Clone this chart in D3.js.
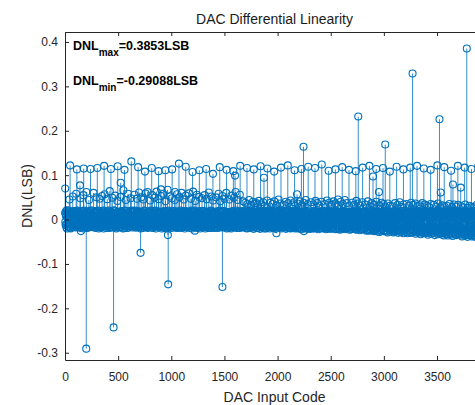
<!DOCTYPE html>
<html>
<head>
<meta charset="utf-8">
<script src="https://cdn.jsdelivr.net/npm/d3@7"></script>
<style>
body { margin: 0; background: #fff; }
text { font-family: Arial, "Liberation Sans", sans-serif; }
</style>
</head>
<body>
<div class="chart"></div>
<script>
// axis ticks
var xTicks = [0, 500, 1000, 1500, 2000, 2500, 3000, 3500];
var yTicks = [-0.3, -0.2, -0.1, 0, 0.1, 0.2, 0.3, 0.4];

// main transitions, one every 64 codes starting at code 48 (mLSB)
var peakDnl = [122, 113, 115, 114, 116, 121, 114, 120, 112, 131, 118, 108, 116, 109, 111, 113,
               126, 119, 107, 111, 114, 103, 118, 112, 109, 121, 116, 113, 120, 115, 108, 117,
               122, 111, 114, 119, 116, 124, 110, 113, 118, 112, 109, 117, 121, 114, 116, 108,
               119, 113, 117, 121, 115, 112, 122, 118, 110, 121, 117, 114, 120, 116, 112, 118];

// smaller secondary transitions
var subCodes = [2, 141, 524, 903, 1035, 1600, 1872, 2183, 2568, 2898, 2954, 3535, 3650, 3723];
var subDnl   = [0.070, 0.077, 0.083, 0.068, 0.062, 0.099, 0.094, 0.057, 0.045, 0.097, 0.062, 0.061, 0.079, 0.072];

// isolated spikes
var spikeCodes = [150, 200, 457, 711, 968, 971, 1221, 1481, 1989, 2244, 2248, 2759, 3013, 3270, 3523, 3780];
var spikeDnl   = [-0.026, -0.29088, -0.243, -0.075, -0.035, -0.146, -0.025, -0.152, -0.031, 0.164, -0.026,
                  0.232, 0.169, 0.329, 0.226, 0.3853];

// remaining codes 1, 5, 9, ... (mLSB), one row per 128 codes
var bulkDnl = [
  14,-12,8,-18,21,3,-9,16,-15,5,45,-6,12,-20,9,-3,18,-11,52,2,-16,11,-7,19,-13,6,58,-4,15,-17,7,-1,
  -8,17,-14,4,48,-19,10,-2,16,-12,7,55,-6,20,-15,1,13,-10,62,-4,18,-17,9,-1,44,-13,6,15,-9,21,-16,3,
  11,-15,5,60,-7,17,-18,2,14,-11,50,-3,19,-14,8,-20,12,47,-6,16,-12,4,-17,53,9,-5,20,-10,1,57,-14,13,
  -6,15,-16,46,7,-11,18,-2,-19,64,10,-8,16,-13,3,49,-17,12,-4,21,-15,6,54,-9,14,-18,0,42,-7,17,-12,8,
  13,-10,51,-5,18,-17,2,15,-13,66,-1,11,-19,9,-6,44,19,-14,5,-8,58,16,-11,1,-16,12,48,-3,20,-15,7,-9,
  -12,19,3,56,-15,9,-7,14,-18,47,6,-4,17,-11,61,-16,10,2,-13,50,15,-9,-19,8,45,-2,18,-14,4,59,-10,11,
  7,-17,62,12,-8,16,-14,1,43,-11,19,-5,-18,55,9,-13,14,-3,49,-16,20,5,-10,63,-7,13,-15,2,46,18,-12,-4,
  -14,10,53,-9,17,-16,4,58,-6,15,-19,11,41,-2,-13,18,-8,67,6,-17,12,-1,52,-11,16,-15,3,48,-5,19,-10,9,
  15,-7,44,-18,8,13,-12,57,-3,-16,18,6,-9,50,-14,11,1,-19,60,14,-6,17,-13,45,-2,9,-17,19,54,-8,5,-11,
  -10,16,-4,59,-15,7,12,-18,47,20,-11,2,-14,63,8,-6,17,-16,42,-1,13,-12,56,-19,10,3,-9,51,15,-13,-3,18,
  6,-16,48,11,-9,19,-14,0,55,-12,14,-5,-17,46,17,-8,4,-15,61,12,-11,-2,18,-19,52,7,-13,16,43,-6,9,-14,
  -13,18,2,50,-7,-16,13,8,-11,58,-4,16,-18,41,10,-9,15,-14,53,1,-17,19,-6,47,12,-12,4,60,-15,17,-3,11,
  12,-9,45,-14,16,-2,-18,54,9,-11,18,-16,3,49,-7,14,-13,62,-5,17,-19,8,44,-10,13,0,-15,56,11,-8,19,-17,
  -11,15,-6,41,-17,10,4,-14,38,17,-9,-19,12,35,-3,16,-12,44,7,-16,-1,19,33,-13,9,-7,40,14,-18,2,36,-10,
  9,-15,37,13,-8,-19,17,2,42,-12,11,-5,-17,34,18,-10,6,-14,39,15,-20,-3,31,12,-11,19,-16,43,4,-7,16,-18,
  -16,12,-2,38,-13,18,-9,5,35,-19,14,-6,41,10,-15,17,-11,32,3,-17,19,-8,45,-12,13,-4,36,-18,8,16,-14,1,
  14,-12,33,-17,6,19,-10,40,-4,-18,15,9,-14,37,17,-7,2,-19,43,11,-13,18,-3,34,-16,8,-9,39,14,-20,5,-11,
  -9,17,-14,36,3,-19,12,-6,41,15,-17,-1,18,32,-12,9,-15,38,16,-8,-20,4,44,-13,11,17,-5,35,-18,7,-10,13,
  10,-18,39,-4,16,-13,-20,8,34,14,-9,19,-16,42,-2,12,-11,37,18,-17,5,-7,31,13,-19,16,-14,40,2,-10,17,-15,
  -14,11,-8,35,18,-17,3,-12,43,9,-20,15,-5,38,-16,13,19,-10,33,-2,-18,14,6,41,-13,17,-9,36,10,-21,1,16,
  8,-16,32,15,-11,-21,12,-4,40,17,-14,6,-19,35,11,-8,18,-17,44,-1,13,-12,-20,37,16,-6,9,-15,30,-18,14,-10,
  -13,16,-7,38,-19,10,4,-16,33,18,-11,-22,14,42,-3,12,-18,36,7,-14,17,-9,31,-21,15,2,-12,39,-17,11,-5,16,
  12,-19,34,-8,17,-23,5,-14,41,14,-10,-25,9,30,-17,16,-4,37,-21,11,-13,18,-24,33,6,-15,13,-9,40,-20,15,-2,
  -18,14,-11,32,-24,9,16,-15,38,3,-22,12,-7,35,-26,17,-13,29,10,-19,-5,15,-25,36,8,-16,13,-21,31,-10,18,-23,
  11,-22,30,-14,16,-27,4,-9,37,13,-20,-3,17,-25,33,8,-17,14,-11,39,-24,6,-28,15,29,-13,10,-21,34,2,-18,16,
  -20,13,-8,35,-26,15,-16,5,31,-23,11,-12,17,-28,38,-6,14,-21,9,33,-25,16,-15,3,36,-19,12,-29,7,30,-14,15,
  14,-24,32,-17,10,-29,6,-13,37,15,-26,-8,12,-21,34,-3,17,-27,9,31,-16,14,-30,4,28,-19,11,-24,35,-11,16,-22,
  -25,12,-15,33,-30,8,16,-20,29,-9,14,-28,5,36,-18,13,-31,10,27,-23,15,-12,-29,32,7,-21,17,-26,30,-14,11,-32,
  9,-27,31,-19,14,-33,3,-16,35,12,-24,-10,16,-30,28,-6,13,-28,8,34,-21,15,-34,5,29,-17,10,-31,33,-13,14,-25,
  -28,11,-18,30,-33,7,15,-23,27,-12,13,-31,4,34,-20,16,-35,9,26,-26,14,-15,-32,31,6,-24,12,-29,28,-16,10,-36,
  8,-30,29,-21,13,-35,2,-18,33,11,-27,-13,15,-33,27,-8,12,-31,7,32,-24,14,-37,4,28,-20,9,-34,31,-15,13,-28,
  -31,10,-20,28,-36,6,14,-26,30,-14,12,-34,3,33,-22,15,-38,8,27,-29,13,-17,-35,30,5,-27,11,-32,29,-18,9,-37
];

// remaining codes 3, 7, 11, ... (mLSB), one row per 128 codes
var bulkDnl2 = [
  -5,18,-13,9,-20,14,2,-16,20,-8,11,-19,6,17,-11,-2,15,-17,10,-7,19,-14,4,-10,16,-18,12,-3,20,-12,8,-15,
  17,-9,3,-18,13,-4,19,-15,7,-11,16,-20,10,-1,-16,14,5,-12,18,-6,-19,9,15,-13,2,-17,11,19,-8,-14,6,12,
  -17,6,16,-10,-3,19,-14,11,-19,4,15,-7,-12,20,1,-16,9,-5,17,-18,13,-9,-2,18,-15,7,-20,14,3,-11,17,-6,
  10,-19,13,-1,-15,8,20,-12,5,-17,-6,18,-9,12,-18,16,-3,-13,7,19,-10,-16,14,1,-20,11,-7,17,-14,4,-18,15,
  -2,14,-17,19,-11,6,-8,17,-20,12,3,-14,20,-5,9,-16,-12,15,-1,-19,11,17,-7,-15,6,19,-13,2,-10,16,-18,8,
  16,-13,7,-6,20,-18,11,-3,13,-15,-9,19,2,-17,14,-10,18,-20,5,12,-14,-4,16,-11,-18,9,20,-8,13,-16,3,-12,
  -11,9,-19,15,2,-14,17,-7,-16,20,8,-12,-4,16,-19,10,-9,19,-15,3,14,-20,7,-6,17,-13,-2,18,-17,11,-9,14,
  13,-16,4,-20,17,-8,-13,10,19,-3,-18,12,-10,7,15,-19,3,-14,20,-11,-5,16,-17,9,12,-7,-19,15,-1,-13,18,-4,
  -8,19,-12,6,-17,15,1,-19,9,-6,17,-15,13,-18,-2,20,-10,11,-16,4,18,-9,-14,19,-4,-20,14,-11,8,16,-15,2,
  18,-4,-15,13,-9,-19,11,16,-12,3,-20,9,18,-7,-14,6,20,-17,-1,14,-11,7,-18,16,-3,12,-16,-9,19,-20,10,-6,
  -15,11,8,-18,19,-2,-12,14,-7,-20,16,1,-16,12,-10,18,-5,-19,9,15,-13,-3,20,-17,6,-8,13,-14,17,-1,-19,11,
  5,-17,15,-11,-4,18,-19,7,12,-14,-1,20,-13,-8,16,-17,10,3,-15,19,-6,-18,11,-10,17,-2,-16,14,-20,8,15,-9,
  -19,13,-5,17,-14,9,-20,16,-3,-12,19,-8,11,-17,5,14,-18,-6,20,-11,8,-15,17,-1,-13,12,-19,4,16,-10,-7,18,
  15,-10,-18,12,6,-16,19,-9,-14,17,-2,-20,13,8,-15,18,-12,1,-19,16,-7,11,-17,19,-5,-13,14,-21,9,17,-11,-3,
  -12,17,3,-19,15,-6,-15,20,-10,7,-21,14,-4,18,-17,10,-13,19,-8,-18,16,2,-14,12,-20,18,-7,-11,15,-16,6,19,
  8,-20,16,-13,-5,19,-17,11,-2,15,-19,-9,18,-14,12,-21,4,17,-11,-16,13,-6,20,-18,9,-12,17,-3,-20,14,-15,10,
  -18,14,-7,20,-16,3,11,-21,17,-10,-14,16,-19,7,19,-13,-4,15,-20,10,-9,18,-15,-2,14,-19,8,20,-12,-17,16,-6,
  12,-15,19,-3,-20,13,-11,17,-18,6,15,-22,9,-7,18,-16,11,-19,2,16,-13,-10,19,-17,13,-5,-21,16,-9,10,-18,14,
  -21,9,-14,17,5,-18,16,-12,-6,19,-20,11,-15,14,-3,-19,17,-9,12,-22,8,18,-16,-4,15,-13,19,-20,6,-11,17,-17,
  16,-19,7,-10,18,-22,13,-5,-17,15,-12,19,-20,4,-14,17,-8,-21,14,-16,10,-3,18,-19,11,-13,16,-22,2,19,-15,-7,
  -9,18,-20,12,-15,6,-23,17,-11,14,-18,-4,19,-21,9,-13,16,-17,-7,18,-22,13,-10,15,-19,-2,17,-14,11,-23,8,16,
  14,-22,10,-16,19,-8,-19,15,2,-21,13,-12,17,-23,6,16,-18,-9,19,-14,12,-24,8,-6,17,-20,15,-11,-22,14,-4,18,
  -20,15,-12,18,-25,9,-7,17,-23,13,-16,5,-21,19,-10,-24,14,-3,16,-19,11,-26,18,-13,-8,15,-22,12,-17,19,-27,7,
  17,-23,12,-28,15,-14,6,-25,18,-9,-21,14,-26,10,17,-17,-5,19,-24,8,-13,16,-29,11,-19,15,-4,-27,18,-12,13,-22,
  -26,13,-18,16,-29,7,-22,19,-11,-27,14,2,-24,17,-15,-30,12,-7,18,-21,15,-28,9,-13,19,-25,6,-31,16,-18,11,-23,
  15,-28,10,-20,18,-31,13,-9,-26,17,-16,4,-30,19,-22,11,-14,-29,16,-6,-25,18,-19,8,-32,14,-11,17,-27,2,-21,19,
  -29,16,-23,9,-33,18,-12,-27,14,-18,6,-31,17,-8,-25,12,19,-30,10,-21,15,-34,3,-16,18,-28,11,-24,16,-32,7,-13,
  18,-30,12,-25,17,-35,8,-19,15,-29,-4,20,-33,11,-22,16,-27,-10,19,-31,13,-17,6,-34,17,-24,9,-36,14,-15,18,-28,
  -32,15,-26,19,-36,9,-21,16,-30,-7,18,-34,12,-24,17,-37,5,-18,20,-29,14,-33,-11,16,-35,10,-23,19,-31,3,-27,17,
  16,-34,11,-28,18,-38,7,-22,15,-32,-9,19,-36,13,-25,17,-30,2,-39,16,-20,12,-35,18,-27,8,-33,15,-38,-14,19,-29,
  -35,14,-29,17,-39,10,-24,19,-33,-12,16,-37,8,-27,18,-31,13,-40,5,-22,17,-36,11,-30,19,-26,-15,16,-38,9,-32,15,
  13,-37,16,-31,-41,11,-26,18,-35,6,-20,17,-39,12,-29,15,-34,-16,19,-42,9,-28,16,-36,4,-24,18,-40,14,-33,-18,17
];

var margin = ({top: 32, right: -9, bottom: 45, left: 65});
var width = 475 - margin.left - margin.right,
    height = 405 - margin.top - margin.bottom;
var axisColor = "#262626",
    lineColor = "#0072BD";

// collect all points
var data = [];
bulkDnl.forEach((v, i) => data.push({code: 4 * i + 1, dnl: v / 1000}));
bulkDnl2.forEach((v, i) => data.push({code: 4 * i + 3, dnl: v / 1000}));
peakDnl.forEach((v, k) => data.push({code: 64 * k + 48, dnl: v / 1000}));
subCodes.forEach((c, i) => data.push({code: c, dnl: subDnl[i]}));
spikeCodes.forEach((c, i) => data.push({code: c, dnl: spikeDnl[i]}));
data.sort((a, b) => a.code - b.code);

var svg = d3.select(".chart").append("svg")
    .attr("width", 475)
    .attr("height", 405)
    .style("display", "block")
    .append("g")
    .attr("transform", "translate(" + margin.left + "," + margin.top + ")");

const xScale = d3.scaleLinear()
    .domain([0, 3942])
    .range([0, width]);

const yScale = d3.scaleLinear()
    .domain([-0.3164, 0.4225])
    .range([height, 0]);

// stems first, then the circles on top
svg.append("g")
    .selectAll("line")
    .data(data)
    .join("line")
    .attr("x1", d => xScale(d.code))
    .attr("x2", d => xScale(d.code))
    .attr("y1", yScale(0))
    .attr("y2", d => yScale(d.dnl))
    .attr("stroke", lineColor)
    .attr("stroke-width", 0.8);

svg.append("g")
    .selectAll("circle")
    .data(data)
    .join("circle")
    .attr("cx", d => xScale(d.code))
    .attr("cy", d => yScale(d.dnl))
    .attr("r", 3.5)
    .attr("fill", "none")
    .attr("stroke", lineColor)
    .attr("stroke-width", 1.1);

// axes (ticks pointing inward, box on)
const fmt = d => d === 0 ? "0" : d3.format(".1f")(d).replace("\u2212", "-");

const xAxis = d3.axisBottom(xScale)
    .tickValues(xTicks)
    .tickSizeInner(-4)
    .tickSizeOuter(0)
    .tickPadding(12)
    .tickFormat(d3.format("d"));

const yAxis = d3.axisLeft(yScale)
    .tickValues(yTicks)
    .tickSizeInner(-4)
    .tickSizeOuter(0)
    .tickPadding(7)
    .tickFormat(fmt);

svg.append("g")
    .attr("class", "axis x-axis")
    .attr("transform", `translate(0, ${height})`)
    .call(xAxis);

svg.append("g")
    .attr("class", "axis y-axis")
    .call(yAxis);

svg.append("g")
    .attr("class", "axis")
    .call(d3.axisTop(xScale).tickValues(xTicks).tickSizeInner(-4).tickSizeOuter(0).tickFormat(""));

svg.append("g")
    .attr("class", "axis")
    .attr("transform", `translate(${width}, 0)`)
    .call(d3.axisRight(yScale).tickValues(yTicks).tickSizeInner(-4).tickSizeOuter(0).tickFormat(""));

svg.selectAll(".axis path, .axis line")
    .attr("stroke", axisColor);
svg.selectAll(".axis text")
    .attr("fill", axisColor)
    .style("font-size", "12px")
    .style("font-family", "Arial, 'Liberation Sans', sans-serif");

// title and axis labels
svg.append("text")
    .attr("x", width / 2)
    .attr("y", -8)
    .attr("text-anchor", "middle")
    .attr("fill", "#1a1a1a")
    .style("font-size", "14px")
    .text("DAC Differential Linearity");

svg.append("text")
    .attr("x", width / 2)
    .attr("y", height + 42)
    .attr("text-anchor", "middle")
    .attr("fill", axisColor)
    .style("font-size", "14px")
    .text("DAC Input Code");

svg.append("text")
    .attr("transform", `translate(-33, ${height / 2}) rotate(-90)`)
    .attr("text-anchor", "middle")
    .attr("fill", axisColor)
    .style("font-size", "14px")
    .text("DNL(LSB)");

// annotations with max / min
var dnlMax = d3.max(data, d => d.dnl),
    dnlMin = d3.min(data, d => d.dnl);

[["max", dnlMax, 18], ["min", dnlMin, 53]].forEach(([sub, val, y]) => {
    const t = svg.append("text")
        .attr("x", 8)
        .attr("y", y)
        .attr("fill", "#000")
        .style("font-weight", "bold")
        .style("font-size", "12.5px");
    t.append("tspan").text("DNL");
    t.append("tspan").attr("dy", 6).style("font-size", "10px").text(sub);
    t.append("tspan").attr("dy", -6).text("=" + val + "LSB");
});
</script>
</body>
</html>
